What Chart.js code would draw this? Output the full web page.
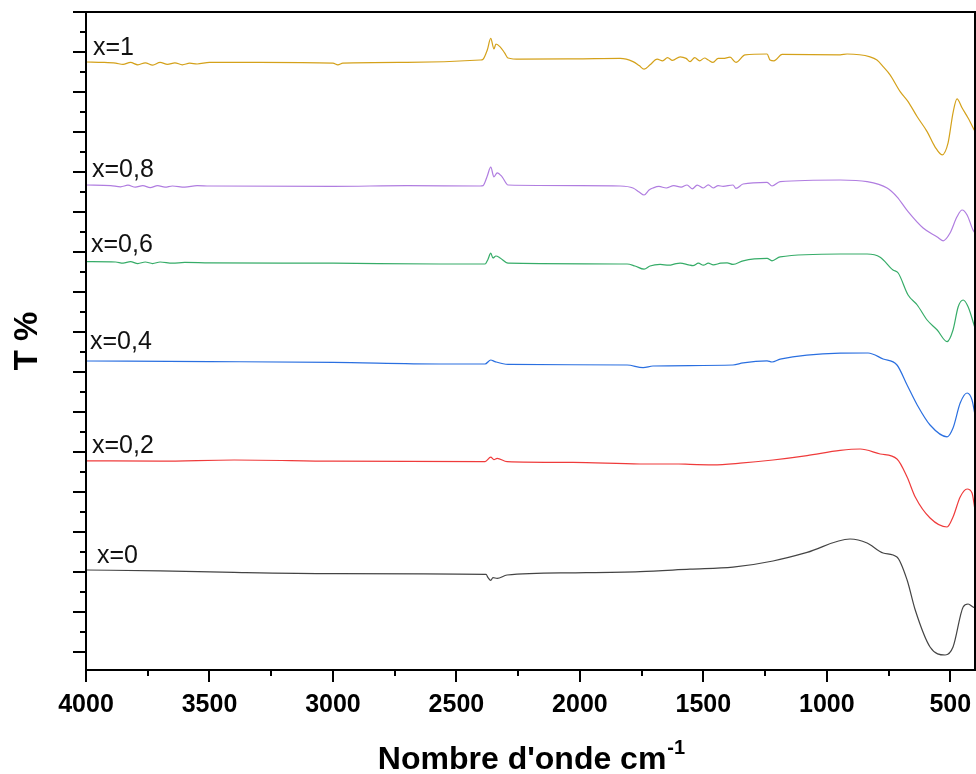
<!DOCTYPE html>
<html lang="fr">
<head>
<meta charset="UTF-8">
<title>Spectres IR</title>
<script src="https://cdn.jsdelivr.net/npm/chart.js@4"></script>
<style>
  body { margin: 0; background: #fff; }
  canvas { display: block; }
</style>
</head>
<body>
<canvas id="chart" width="976" height="774"></canvas>
<script>
// spectra: [wavenumber cm-1, T (arbitrary, offset per curve)]
const specX0 = [[4000,2.05],[3700,2.03],[3400,1.99],[3000,1.96],[2380,1.94],[2372,1.86],[2361,1.79],[2352,1.86],[2335,1.84],[2295,1.925],[2028,1.98],[1756,2.01],[1554,2.07],[1380,2.12],[1218,2.275],[1080,2.49],[906,2.825],[837,2.725],[772,2.475],[716,2.375],[675,1.8],[642,1.05],[582,0.125],[521,-0.075],[489,0.125],[448,1.125],[428,1.2],[408,1.125],[400,1.1]];

const specX02 = [[4000,4.78],[3700,4.77],[3400,4.8],[3000,4.77],[2384,4.76],[2361,4.87],[2348,4.81],[2335,4.84],[2295,4.76],[2028,4.74],[1756,4.7],[1600,4.7],[1554,4.69],[1461,4.68],[1351,4.72],[1218,4.8],[1080,4.91],[946,5.04],[865,5.075],[784,4.95],[716,4.825],[675,4.375],[642,3.875],[582,3.35],[513,3.125],[489,3.375],[460,3.875],[432,4.075],[412,3.975],[400,3.55]];

const specX04 = [[4000,7.275],[3500,7.26],[3000,7.24],[2566,7.2],[2384,7.2],[2361,7.3],[2344,7.26],[2291,7.19],[1809,7.175],[1744,7.11],[1704,7.15],[1380,7.175],[1339,7.23],[1242,7.28],[1222,7.25],[1189,7.32],[946,7.47],[833,7.475],[772,7.325],[716,7.175],[675,6.675],[634,6.175],[582,5.675],[513,5.38],[489,5.6],[460,6.225],[432,6.475],[412,6.3],[400,5.925]];

const specX06 = [[4000,9.76],[3880,9.75],[3850,9.72],[3820,9.76],[3790,9.71],[3760,9.75],[3730,9.71],[3700,9.75],[3650,9.72],[3600,9.74],[3500,9.73],[3000,9.72],[2566,9.7],[2384,9.7],[2372,9.82],[2361,9.97],[2352,9.85],[2340,9.9],[2323,9.85],[2291,9.72],[1809,9.7],[1777,9.65],[1740,9.57],[1716,9.65],[1675,9.69],[1640,9.67],[1610,9.71],[1594,9.72],[1560,9.68],[1542,9.66],[1520,9.72],[1500,9.67],[1480,9.72],[1460,9.68],[1430,9.72],[1404,9.73],[1380,9.69],[1339,9.78],[1242,9.84],[1222,9.78],[1189,9.88],[946,9.95],[837,9.95],[784,9.87],[732,9.55],[711,9.475],[671,8.925],[634,8.675],[594,8.3],[553,8.05],[513,7.76],[489,8.05],[468,8.63],[448,8.8],[428,8.63],[400,8.1]];

const specX08 = [[4000,11.675],[3900,11.66],[3860,11.63],[3830,11.67],[3800,11.62],[3770,11.66],[3740,11.61],[3710,11.66],[3680,11.62],[3650,11.65],[3600,11.62],[3550,11.66],[3500,11.65],[3000,11.64],[2700,11.66],[2404,11.65],[2392,11.66],[2375,11.9],[2361,12.12],[2348,11.88],[2335,11.98],[2315,11.88],[2291,11.675],[2000,11.66],[1837,11.65],[1785,11.6],[1760,11.5],[1740,11.425],[1720,11.55],[1704,11.6],[1680,11.64],[1650,11.6],[1620,11.66],[1590,11.62],[1566,11.675],[1545,11.58],[1525,11.67],[1500,11.6],[1480,11.68],[1460,11.6],[1440,11.66],[1420,11.64],[1380,11.675],[1368,11.59],[1339,11.7],[1242,11.74],[1222,11.65],[1189,11.76],[946,11.8],[837,11.76],[756,11.6],[716,11.38],[671,11.01],[610,10.6],[553,10.375],[529,10.28],[501,10.475],[473,10.88],[452,11.05],[432,10.925],[408,10.55],[400,10.475]];

const specX1 = [[4000,14.75],[3930,14.74],[3880,14.72],[3850,14.69],[3820,14.74],[3790,14.68],[3760,14.73],[3730,14.67],[3700,14.74],[3670,14.69],[3640,14.73],[3610,14.68],[3580,14.72],[3550,14.7],[3500,14.74],[3300,14.74],[3000,14.72],[2980,14.68],[2960,14.72],[2700,14.74],[2404,14.8],[2392,14.82],[2375,15.05],[2361,15.34],[2348,15.075],[2340,15.2],[2323,15.13],[2305,14.98],[2291,14.85],[2242,14.82],[2000,14.83],[1837,14.84],[1785,14.76],[1760,14.66],[1740,14.57],[1716,14.68],[1687,14.82],[1665,14.78],[1645,14.86],[1625,14.79],[1594,14.88],[1570,14.84],[1554,14.76],[1535,14.86],[1515,14.78],[1495,14.85],[1480,14.8],[1461,14.74],[1440,14.84],[1420,14.84],[1392,14.87],[1368,14.74],[1331,14.93],[1242,14.95],[1230,14.8],[1214,14.78],[1181,14.94],[946,14.93],[918,14.95],[825,14.88],[797,14.8],[770,14.62],[744,14.43],[703,14.01],[671,13.76],[634,13.38],[594,13.01],[562,12.63],[533,12.43],[509,12.73],[489,13.48],[473,13.83],[452,13.6],[428,13.35],[400,13.01]];

const curveNames = ['x=0', 'x=0,2', 'x=0,4', 'x=0,6', 'x=0,8', 'x=1'];
const curveColors = ['#444444', '#ef3b3b', '#2a6fe0', '#36ac68', '#b07de0', '#d4a11a'];
const xMajorTicks = [4000, 3500, 3000, 2500, 2000, 1500, 1000, 500];
const xMinorTicks = [3750, 3250, 2750, 2250, 1750, 1250, 750];
const yMajorTicks = [0, 1, 2, 3, 4, 5, 6, 7, 8, 9, 10, 11, 12, 13, 14, 15, 16];
const yMinorTicks = [0.5, 1.5, 2.5, 3.5, 4.5, 5.5, 6.5, 7.5, 8.5, 9.5, 10.5, 11.5, 12.5, 13.5, 14.5, 15.5];

const spectra = [specX0, specX02, specX04, specX06, specX08, specX1];
const FONT = '"Liberation Sans", Arial, sans-serif';

// label offsets from the start of each curve (px)
const labelDx = [11, 6, 4, 5, 6, 7];
const labelDy = [7, 8, 12, 10, 8, 7];

const decorations = {
  id: 'decorations',
  afterDraw(chart) {
    const ctx = chart.ctx;
    const a = chart.chartArea;
    const xs = chart.scales.x, ys = chart.scales.y;
    ctx.save();
    ctx.strokeStyle = '#000';
    ctx.lineWidth = 2;
    ctx.strokeRect(a.left, a.top, a.right - a.left, a.bottom - a.top);

    ctx.beginPath();
    xMajorTicks.concat(xMinorTicks).forEach(v => {
      const px = Math.round(xs.getPixelForValue(v));
      const len = xMajorTicks.includes(v) ? 12 : 6;
      ctx.moveTo(px, a.bottom);
      ctx.lineTo(px, a.bottom + len);
    });
    yMajorTicks.concat(yMinorTicks).forEach(v => {
      if (v < ys.min || v > ys.max) return;
      const py = Math.round(ys.getPixelForValue(v));
      const len = yMajorTicks.includes(v) ? 13 : 6;
      ctx.moveTo(a.left, py);
      ctx.lineTo(a.left - len, py);
    });
    ctx.stroke();

    // curve labels
    ctx.fillStyle = '#111';
    ctx.font = '25px ' + FONT;
    ctx.textAlign = 'left';
    ctx.textBaseline = 'alphabetic';
    spectra.forEach((s, i) => {
      const py = ys.getPixelForValue(s[0][1]);
      ctx.fillText(curveNames[i], a.left + labelDx[i], py - labelDy[i]);
    });

    // x title with superscript
    ctx.fillStyle = '#000';
    const main = "Nombre d'onde cm";
    const sup = '-1';
    ctx.font = 'bold 32px ' + FONT;
    const wMain = ctx.measureText(main).width;
    ctx.font = 'bold 20px ' + FONT;
    const wSup = ctx.measureText(sup).width;
    const x0 = 531 - (wMain + wSup) / 2;
    ctx.font = 'bold 32px ' + FONT;
    ctx.fillText(main, x0, 769);
    ctx.font = 'bold 20px ' + FONT;
    ctx.fillText(sup, x0 + wMain + 1, 754);

    // y title
    ctx.translate(37, 341);
    ctx.rotate(-Math.PI / 2);
    ctx.textAlign = 'center';
    ctx.font = 'bold 33px ' + FONT;
    ctx.fillText('T %', 0, 0);
    ctx.restore();
  }
};

new Chart(document.getElementById('chart'), {
  type: 'scatter',
  data: {
    datasets: spectra.map((s, i) => ({
      label: curveNames[i],
      data: s.map(p => ({ x: p[0], y: p[1] })),
      showLine: true,
      borderColor: curveColors[i],
      borderWidth: 1.2,
      pointRadius: 0,
      cubicInterpolationMode: 'monotone'
    }))
  },
  options: {
    responsive: false,
    devicePixelRatio: 1,
    animation: false,
    layout: { padding: { top: 12, right: 1, left: 0, bottom: 0 } },
    plugins: { legend: { display: false }, tooltip: { enabled: false } },
    scales: {
      x: {
        type: 'linear',
        reverse: true,
        min: 400,
        max: 4000,
        afterBuildTicks: s => { s.ticks = xMajorTicks.map(v => ({ value: v })); },
        afterFit: s => { s.height = 104; s.paddingLeft = 0; s.paddingRight = 0; },
        grid: { display: false, drawTicks: false },
        border: { display: false },
        ticks: {
          color: '#000',
          padding: 20,
          maxRotation: 0,
          autoSkip: false,
          font: { family: FONT, size: 25, weight: 'bold' },
          callback: v => String(v)
        }
      },
      y: {
        type: 'linear',
        min: -0.45,
        max: 16,
        afterFit: s => { s.width = 86; },
        grid: { display: false, drawTicks: false },
        border: { display: false },
        ticks: { display: false }
      }
    }
  },
  plugins: [decorations]
});
</script>
</body>
</html>
